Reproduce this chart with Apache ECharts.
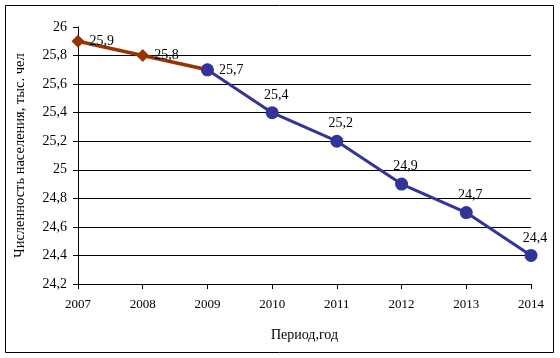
<!DOCTYPE html>
<html><head><meta charset="utf-8">
<script src="https://cdn.jsdelivr.net/npm/echarts@6/dist/echarts.min.js"></script>
<style>html,body{margin:0;padding:0;background:#fff}#c{width:560px;height:358px}</style>
</head><body><div id="c"></div>
<script>
const years = ['2007','2008','2009','2010','2011','2012','2013','2014'];
const brownValues = [25.9, 25.8, 25.7, null, null, null, null, null];
const blueValues = [null, null, 25.7, 25.4, 25.2, 24.9, 24.7, 24.4];
const yTicks = {min: 24.2, max: 26, interval: 0.2};

const fmt = v => String(Math.round(v*10)/10).replace('.', ',');
const splitColors = ['transparent','#000','#000','#000','#000','#000','#000','#000','#000','transparent'];
const chart = echarts.init(document.getElementById('c'));
chart.setOption({
  animation: false,
  graphic: [{type:'rect', shape:{x:5.5,y:5.5,width:548,height:347}, style:{fill:'none', stroke:'#000', lineWidth:1}, z:-1}],
  grid: {left: 78, right: 29, top: 27, bottom: 74},
  xAxis: {
    type: 'category', data: years, boundaryGap: false,
    name: 'Период,год', nameLocation: 'middle', nameGap: 44,
    nameTextStyle: {fontFamily: 'Liberation Serif', fontSize: 14, color: '#000'},
    axisLine: {lineStyle: {color: '#000', width: 1}},
    axisTick: {show: true, inside: false, length: 5, lineStyle: {color: '#000'}},
    axisLabel: {fontFamily: 'Liberation Serif', fontSize: 13, color: '#000', margin: 14},
    splitLine: {show: false}
  },
  yAxis: {
    type: 'value', min: yTicks.min, max: yTicks.max, interval: yTicks.interval,
    name: 'Численность населения, тыс. чел', nameLocation: 'middle', nameGap: 50,
    nameTextStyle: {fontFamily: 'Liberation Serif', fontSize: 14.5, color: '#000'},
    axisLine: {show: true, lineStyle: {color: '#000', width: 1}},
    axisTick: {show: true, length: 5, lineStyle: {color: '#000'}},
    axisLabel: {fontFamily: 'Liberation Serif', fontSize: 14, color: '#000', margin: 11, formatter: fmt},
    splitLine: {show: true, lineStyle: {color: splitColors, width: 1}}
  },
  series: [
    {
      type: 'line', data: blueValues, connectNulls: false,
      symbol: 'circle', symbolSize: 13,
      lineStyle: {color: '#333399', width: 3},
      itemStyle: {color: '#333399'},
      z: 3,
      label: {show: true, position: 'top', distance: 4, offset: [4, 0], fontFamily: 'Liberation Serif', fontSize: 14, color: '#000',
        formatter: p => p.dataIndex === 2 ? '' : fmt(p.value)}
    },
    {
      type: 'line', data: brownValues,
      symbol: 'diamond', symbolSize: 13,
      lineStyle: {color: '#993300', width: 3.5},
      itemStyle: {color: '#993300'},
      z: 2,
      label: {show: true, position: 'right', distance: 5, fontFamily: 'Liberation Serif', fontSize: 14, color: '#000',
        formatter: p => fmt(p.value)}
    }
  ]
});
</script></body></html>
